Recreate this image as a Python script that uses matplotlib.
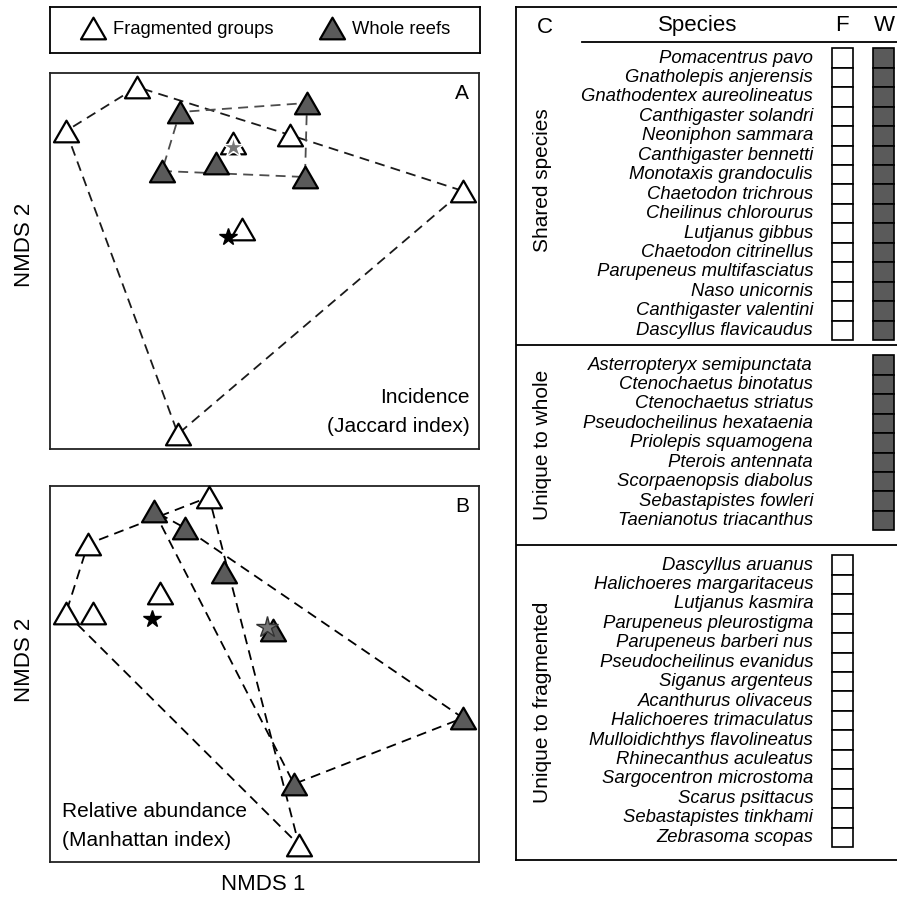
# -----------------------------------------
# NMDS ordination of reef fish assemblages + species table
# -----------------------------------------

import matplotlib
matplotlib.use("Agg")
import matplotlib.pyplot as plt
import matplotlib.path as mpath
from matplotlib.markers import MarkerStyle
from matplotlib.lines import Line2D
from matplotlib.patches import Rectangle

plt.rcParams['font.family'] = ['Liberation Sans', 'DejaVu Sans']

# -----------------------------------------
# Data
# -----------------------------------------
# Panel A: incidence (Jaccard)
frag_A_x = [-0.51, -0.794, 0.102, 0.794, -0.346, -0.09, -0.126]
frag_A_y = [0.696, 0.52, 0.504, 0.28, -0.692, 0.128, 0.472]
whole_A_x = [-0.338, 0.17, -0.41, -0.194, 0.162]
whole_A_y = [0.596, 0.632, 0.36, 0.392, 0.336]
frag_A_centroid = (-0.146, 0.096)
whole_A_centroid = (-0.126, 0.456)

# Panel B: relative abundance (Manhattan)
frag_B_x = [-0.222, -0.706, -0.794, -0.686, -0.418, 0.138]
frag_B_y = [0.708, 0.52, 0.244, 0.244, 0.324, -0.684]
whole_B_x = [-0.442, -0.318, -0.162, 0.034, 0.794, 0.118]
whole_B_y = [0.652, 0.584, 0.408, 0.176, -0.176, -0.44]
frag_B_centroid = (-0.45, 0.22)
whole_B_centroid = (0.01, 0.188)

# Panel C: species lists
shared_species = ["Pomacentrus pavo", "Gnatholepis anjerensis", "Gnathodentex aureolineatus",
                  "Canthigaster solandri", "Neoniphon sammara", "Canthigaster bennetti",
                  "Monotaxis grandoculis", "Chaetodon trichrous", "Cheilinus chlorourus",
                  "Lutjanus gibbus", "Chaetodon citrinellus", "Parupeneus multifasciatus",
                  "Naso unicornis", "Canthigaster valentini", "Dascyllus flavicaudus"]
whole_only_species = ["Asterropteryx semipunctata", "Ctenochaetus binotatus",
                      "Ctenochaetus striatus", "Pseudocheilinus hexataenia",
                      "Priolepis squamogena", "Pterois antennata", "Scorpaenopsis diabolus",
                      "Sebastapistes fowleri", "Taenianotus triacanthus"]
frag_only_species = ["Dascyllus aruanus", "Halichoeres margaritaceus", "Lutjanus kasmira",
                     "Parupeneus pleurostigma", "Parupeneus barberi nus",
                     "Pseudocheilinus evanidus", "Siganus argenteus", "Acanthurus olivaceus",
                     "Halichoeres trimaculatus", "Mulloidichthys flavolineatus",
                     "Rhinecanthus aculeatus", "Sargocentron microstoma", "Scarus psittacus",
                     "Sebastapistes tinkhami", "Zebrasoma scopas"]
section_labels = ["Shared species", "Unique to whole", "Unique to fragmented"]

# -----------------------------------------
# Styles
# -----------------------------------------
W, H = 897, 899
WHOLE_FILL = "#5a5a5a"
tri_path = mpath.Path([(-1, -0.866), (1, -0.866), (0, 0.866), (0, 0)],
                      [mpath.Path.MOVETO, mpath.Path.LINETO, mpath.Path.LINETO, mpath.Path.CLOSEPOLY])
TRI = MarkerStyle(tri_path, joinstyle="miter")
TRI_SIZE = 18
TRI_EW = 1.6


def convex_hull(xs, ys):
    pts = sorted(set(zip(xs, ys)))

    def cross(o, a, b):
        return (a[0] - o[0]) * (b[1] - o[1]) - (a[1] - o[1]) * (b[0] - o[0])

    lower, upper = [], []
    for p in pts:
        while len(lower) >= 2 and cross(lower[-2], lower[-1], p) <= 0:
            lower.pop()
        lower.append(p)
    for p in reversed(pts):
        while len(upper) >= 2 and cross(upper[-2], upper[-1], p) <= 0:
            upper.pop()
        upper.append(p)
    hull = lower[:-1] + upper[:-1]
    hull.append(hull[0])
    return [p[0] for p in hull], [p[1] for p in hull]


def fig_rect(x0, y0, x1, y1):
    # pixel box -> figure fraction [left, bottom, width, height]
    return [x0 / W, 1 - y1 / H, (x1 - x0) / W, (y1 - y0) / H]


def nmds_panel(ax, fx, fy, wx, wy, fcent, wcent, letter, frag_line, whole_line, star_edge):
    hx, hy = convex_hull(fx, fy)
    ax.plot(hx, hy, color=frag_line, lw=1.3, dashes=(5.5, 3.5), zorder=1)
    hx, hy = convex_hull(wx, wy)
    ax.plot(hx, hy, color=whole_line, lw=1.3, dashes=(5.5, 3.5), zorder=1)
    ax.plot(fx, fy, linestyle="none", marker=TRI, markersize=TRI_SIZE, markerfacecolor="white",
            markeredgecolor="black", markeredgewidth=TRI_EW, zorder=3, clip_on=False)
    ax.plot(wx, wy, linestyle="none", marker=TRI, markersize=TRI_SIZE, markerfacecolor=WHOLE_FILL,
            markeredgecolor="black", markeredgewidth=TRI_EW, zorder=3, clip_on=False)
    ax.plot(*fcent, linestyle="none", marker="*", markersize=13, color="black", zorder=5)
    ax.plot(*wcent, linestyle="none", marker="*", markersize=16, markerfacecolor="#777777",
            markeredgecolor=star_edge, markeredgewidth=1.0, zorder=5)
    ax.set_xlim(-0.858, 0.858)
    ax.set_ylim(-0.752, 0.752)
    ax.set_xticks([])
    ax.set_yticks([])
    for s in ax.spines.values():
        s.set_linewidth(1.3)
        s.set_color("#222222")
    ax.text(0.96, 0.945, letter, transform=ax.transAxes, ha="center", va="center", fontsize=15)


fig = plt.figure(figsize=(W / 100, H / 100), dpi=100)

# -----------------------------------------
# Legend box
# -----------------------------------------
lax = fig.add_axes(fig_rect(50, 7, 480, 53))
lax.set_xticks([])
lax.set_yticks([])
for s in lax.spines.values():
    s.set_linewidth(1.3)
handles = [Line2D([], [], linestyle="none", marker=TRI, markersize=TRI_SIZE, markerfacecolor="white",
                  markeredgecolor="black", markeredgewidth=TRI_EW),
           Line2D([], [], linestyle="none", marker=TRI, markersize=TRI_SIZE, markerfacecolor=WHOLE_FILL,
                  markeredgecolor="black", markeredgewidth=TRI_EW)]
lax.legend(handles, ["Fragmented groups", "Whole reefs"], ncol=2, loc="center", frameon=False,
           fontsize=13.2, handlelength=1.4, handletextpad=0.4, columnspacing=2.5,
           borderaxespad=0, borderpad=0)

# -----------------------------------------
# Panels A and B
# -----------------------------------------
axA = fig.add_axes(fig_rect(50, 73, 479, 449))
nmds_panel(axA, frag_A_x, frag_A_y, whole_A_x, whole_A_y, frag_A_centroid, whole_A_centroid, "A",
           "#1a1a1a", "#4d4d4d", "white")
axA.text(0.979, 0.136, "Incidence", transform=axA.transAxes, ha="right", va="center", fontsize=15)
axA.text(0.979, 0.059, "(Jaccard index)", transform=axA.transAxes, ha="right", va="center", fontsize=15)

axB = fig.add_axes(fig_rect(50, 486, 479, 862))
nmds_panel(axB, frag_B_x, frag_B_y, whole_B_x, whole_B_y, frag_B_centroid, whole_B_centroid, "B",
           "black", "black", "#333333")
axB.text(0.028, 0.133, "Relative abundance", transform=axB.transAxes, ha="left", va="center", fontsize=15)
axB.text(0.028, 0.0585, "(Manhattan index)", transform=axB.transAxes, ha="left", va="center", fontsize=15)

fig.text(263 / W, 1 - 885 / H, "NMDS 1", ha="center", va="center", fontsize=16)
fig.text(25 / W, 1 - 245 / H, "NMDS 2", ha="center", va="center", rotation=90, fontsize=16)
fig.text(25 / W, 1 - 660 / H, "NMDS 2", ha="center", va="center", rotation=90, fontsize=16)

# -----------------------------------------
# Panel C: species presence table (axes in pixel units)
# -----------------------------------------
axC = fig.add_axes(fig_rect(516, 7, 912, 860))
axC.set_xlim(516, 912)
axC.set_ylim(860, 7)
axC.set_xticks([])
axC.set_yticks([])
for s in axC.spines.values():
    s.set_linewidth(1.3)

pitch = 19.45
section_start = [58, 365, 565]
section_label_y = [180, 445, 702]
dividers = [345, 545]
f_x, w_x, box_w = 832, 873, 21

axC.text(545, 27, "C", ha="center", va="center", fontsize=16)
axC.text(698, 25, "Species", ha="center", va="center", fontsize=16)
axC.text(842, 25, "F", ha="center", va="center", fontsize=16)
axC.text(884, 25, "W", ha="center", va="center", fontsize=16)
axC.plot([582, 912], [42, 42], color="black", lw=1.3, clip_on=False)
for d in dividers:
    axC.plot([516, 912], [d, d], color="black", lw=1.3)

sections = [(shared_species, True, True), (whole_only_species, False, True), (frag_only_species, True, False)]
for k, (names, in_f, in_w) in enumerate(sections):
    for i, name in enumerate(names):
        y = section_start[k] + pitch * i
        axC.text(813, y, name, ha="right", va="center", fontsize=13.3, style="italic")
        if in_f:
            axC.add_patch(Rectangle((f_x, y - pitch / 2), box_w, pitch, facecolor="white",
                                    edgecolor="black", lw=1.2))
        if in_w:
            axC.add_patch(Rectangle((w_x, y - pitch / 2), box_w, pitch, facecolor=WHOLE_FILL,
                                    edgecolor="black", lw=1.2))
    axC.text(542, section_label_y[k], section_labels[k], ha="center", va="center",
             rotation=90, fontsize=15)

fig.savefig("out.png", dpi=100)
